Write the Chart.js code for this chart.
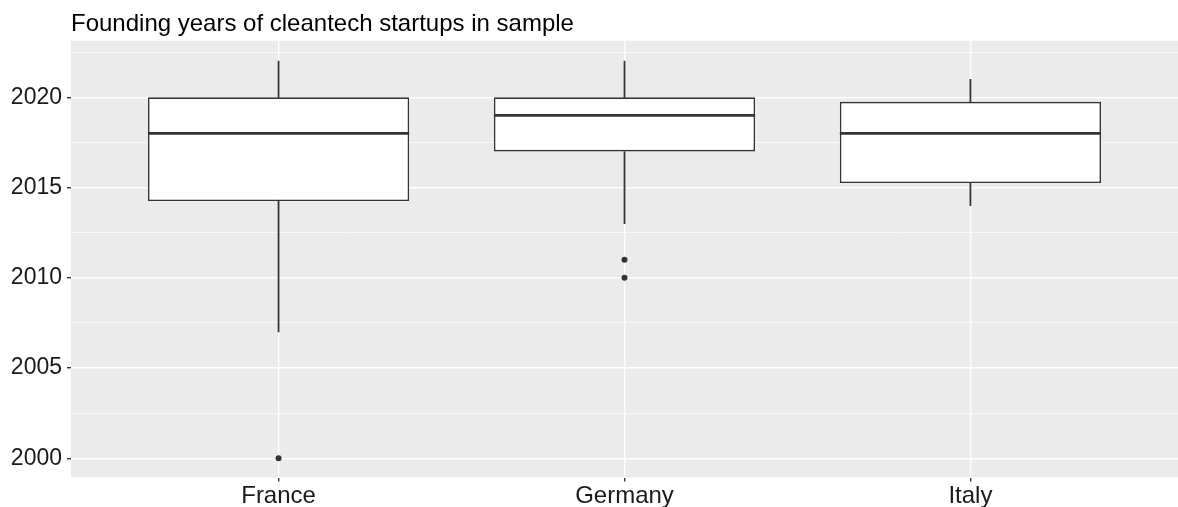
<!DOCTYPE html>
<html>
<head>
<meta charset="utf-8">
<script src="https://cdn.jsdelivr.net/npm/chart.js@4/dist/chart.umd.min.js"></script>
<style>
  html, body { margin: 0; padding: 0; background: #fff; }
  #wrap { width: 1178px; height: 507px; }
</style>
</head>
<body>
<div id="wrap"><canvas id="chart"></canvas></div>
<script>
const countries = ["France", "Germany", "Italy"];
const lowerWhisker = [2007, 2013, 2014];
const q1 = [2014.25, 2017, 2015.25];
const medians = [2018, 2019, 2018];
const q3 = [2020, 2020, 2019.75];
const upperWhisker = [2022, 2022, 2021];
const outliers = [
  { country: "France", year: 2000 },
  { country: "Germany", year: 2011 },
  { country: "Germany", year: 2010 },
];
const yTicks = [2000, 2002.5, 2005, 2007.5, 2010, 2012.5, 2015, 2017.5, 2020, 2022.5];

const ink = "#333333";
const pos = (name) => countries.indexOf(name) + 1;

const whiskerData = [];
countries.forEach((c, i) => {
  whiskerData.push({ x: i + 1, y: [lowerWhisker[i], q1[i]] });
  whiskerData.push({ x: i + 1, y: [q3[i], upperWhisker[i]] });
});

const boxData = countries.map((c, i) => ({ x: i + 1, y: [q1[i], q3[i]] }));
const outlierData = outliers.map((o) => ({ x: pos(o.country), y: o.year }));

// grey ggplot panel behind the grid
const panelBg = {
  id: "panelBg",
  beforeDraw(chart) {
    const { ctx, chartArea: a } = chart;
    ctx.save();
    ctx.fillStyle = "#EBEBEB";
    ctx.fillRect(a.left, a.top, a.right - a.left, a.bottom - a.top);
    ctx.restore();
  },
};

// median line across each box
const medianLines = {
  id: "medianLines",
  afterDatasetsDraw(chart) {
    const meta = chart.getDatasetMeta(1);
    const y = chart.scales.y;
    const ctx = chart.ctx;
    ctx.save();
    ctx.strokeStyle = ink;
    ctx.lineWidth = 2.6;
    meta.data.forEach((bar, i) => {
      const py = y.getPixelForValue(medians[i]);
      ctx.beginPath();
      ctx.moveTo(bar.x - bar.width / 2, py);
      ctx.lineTo(bar.x + bar.width / 2, py);
      ctx.stroke();
    });
    ctx.restore();
  },
};

const isMajor = (v) => Math.abs(v % 5) < 1e-6;
const font = "Liberation Sans, Arial, sans-serif";

new Chart(document.getElementById("chart"), {
  type: "bar",
  data: {
    datasets: [
      {
        type: "line",
        data: outlierData,
        showLine: false,
        pointRadius: 3,
        pointBackgroundColor: ink,
        pointBorderWidth: 0,
        order: 0,
      },
      {
        data: boxData,
        backgroundColor: "#FFFFFF",
        borderColor: ink,
        borderWidth: 1.6,
        borderSkipped: false,
        grouped: false,
        barPercentage: 0.755,
        categoryPercentage: 1,
        order: 1,
      },
      {
        data: whiskerData,
        backgroundColor: ink,
        barThickness: 1.1,
        grouped: false,
        order: 2,
      },
    ],
  },
  options: {
    responsive: true,
    maintainAspectRatio: false,
    animation: false,
    layout: { autoPadding: false, padding: { top: 2, right: 0, left: 0, bottom: 0 } },
    plugins: {
      legend: { display: false },
      tooltip: { enabled: false },
      title: {
        display: true,
        text: "Founding years of cleantech startups in sample",
        align: "start",
        fullSize: false,
        color: "#000000",
        font: { family: font, size: 24, weight: "normal", lineHeight: 1.2 },
        padding: { top: 7.5, bottom: 2.5 },
      },
    },
    scales: {
      x: {
        type: "linear",
        min: 0.4,
        max: 3.6,
        offset: false,
        afterBuildTicks: (scale) => {
          scale.ticks = countries.map((c, i) => ({ value: i + 1 }));
        },
        afterFit: (scale) => {
          scale.height = 29.5;
        },
        ticks: {
          color: "#1A1A1A",
          font: { family: font, size: 24 },
          padding: 0,
          callback: (v) => countries[Math.round(v) - 1] || "",
          maxRotation: 0,
          autoSkip: false,
        },
        grid: {
          offset: false,
          color: "#FFFFFF",
          lineWidth: 1.4,
          tickColor: ink,
          tickLength: 4,
        },
        border: { display: false },
      },
      y: {
        min: 1998.94,
        max: 2023.13,
        afterBuildTicks: (scale) => {
          scale.ticks = yTicks.map((v) => ({ value: v }));
        },
        afterFit: (scale) => {
          scale.width = 71;
        },
        ticks: {
          color: "#1A1A1A",
          font: { family: font, size: 23 },
          padding: 5,
          autoSkip: false,
          callback: (v) => (isMajor(v) ? String(v) : ""),
        },
        grid: {
          color: "#FFFFFF",
          lineWidth: (c) => (c.tick && isMajor(c.tick.value) ? 1.4 : 0.7),
          tickColor: (c) => (c.tick && isMajor(c.tick.value) ? ink : "rgba(0,0,0,0)"),
          tickLength: 4,
        },
        border: { display: false },
      },
    },
  },
  plugins: [panelBg, medianLines],
});
</script>
</body>
</html>
